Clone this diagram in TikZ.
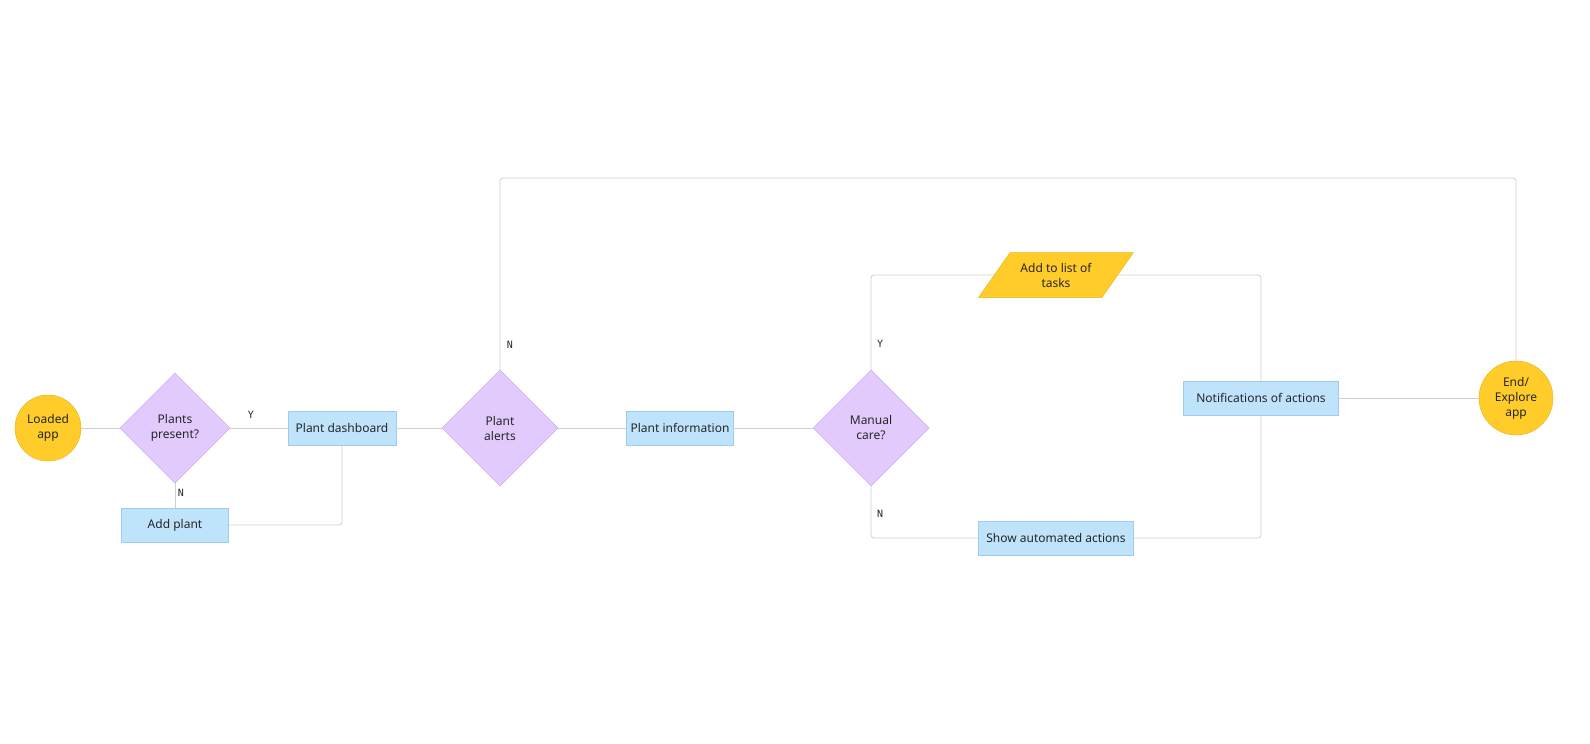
\documentclass[tikz,border=0pt]{standalone}
\usepackage{fontspec}
\setmainfont{Noto Sans}
\newfontfamily\lblfont{DejaVu Sans Mono}
\usetikzlibrary{shapes.geometric}
\definecolor{yel}{HTML}{FFCC29}
\definecolor{yelb}{HTML}{E8B820}
\definecolor{pur}{HTML}{E2CBFC}
\definecolor{purb}{HTML}{C7A8F0}
\definecolor{blu}{HTML}{BFE3FB}
\definecolor{blub}{HTML}{9DCCEE}
\definecolor{ln}{HTML}{CFCFCF}
\begin{document}
\begin{tikzpicture}[x=1pt,y=-1pt,
  every node/.style={font=\fontsize{12}{15}\selectfont, text=black!85, align=center},
  term/.style={circle, fill=yel, draw=yelb, line width=0.5pt, minimum size=#1, inner sep=0pt},
  dec/.style={diamond, fill=pur, draw=purb, line width=0.5pt, minimum width=#1, minimum height=#1, inner sep=0pt},
  proc/.style={rectangle, fill=blu, draw=blub, line width=0.5pt, minimum width=#1, minimum height=34, inner sep=0pt},
  io/.style={trapezium, trapezium left angle=45, trapezium right angle=135, fill=yel, draw=yelb, line width=0.5pt, minimum width=155, minimum height=45, inner sep=0pt, trapezium stretches=true},
  conn/.style={draw=ln, line width=0.8pt, rounded corners=3pt},
  lbl/.style={font=\lblfont\fontsize{10}{12}\selectfont}]
\useasboundingbox (0,0) rectangle (1590,744);
\node[term=66] (load) at (48,428) {Loaded\\app};
\node[dec=110] (pp) at (175,428) {Plants\\present?};
\node[proc=108] (dash) at (342,428) {Plant dashboard};
\node[proc=107] (add) at (175,525) {Add plant};
\node[dec=116] (alert) at (500,428) {Plant\\alerts};
\node[proc=107] (info) at (680,428) {Plant information};
\node[dec=116] (man) at (871,428) {Manual\\care?};
\node[io] (task) at (1056,275) {Add to list of\\tasks};
\node[proc=155] (auto) at (1056,538) {Show automated actions};
\node[proc=155] (notif) at (1261,398) {Notifications of actions};
\node[term=74] (end) at (1516,398) {End/\\Explore\\app};
\coordinate (c1) at (500,178);
\coordinate (c2) at (1516,178);
\draw[conn] (load) -- (pp) -- (dash) -- (alert) -- (info) -- (man);
\draw[conn] (pp.south) -- (add.north);
\draw[conn] (add.east) -| (dash.south);
\draw[conn] (alert.north) -- (c1) -- (c2) -- (end.north);
\draw[conn] (man.north) |- (task.west);
\draw[conn] (task.east) -| (notif.north);
\draw[conn] (man.south) |- (auto.west);
\draw[conn] (auto.east) -| (notif.south);
\draw[conn] (notif) -- (end);
\node[lbl] (ly) at (251,415) {Y};
\node[lbl] (ln1) at (181,493) {N};
\node[lbl] (ln2) at (510,345) {N};
\node[lbl] (ly2) at (880,344) {Y};
\node[lbl] (ln3) at (880,514) {N};
\end{tikzpicture}
\end{document}
